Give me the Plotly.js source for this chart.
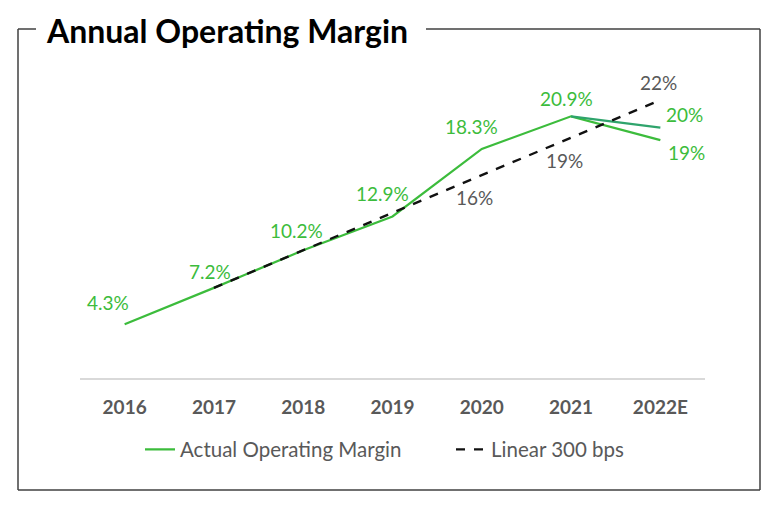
<!DOCTYPE html>
<html>
<head>
<meta charset="utf-8">
<script src="https://cdn.plot.ly/plotly-3.0.1.min.js"></script>
<style>html,body{margin:0;padding:0;background:#fff;}#chart{width:776px;height:506px;}</style>
</head>
<body>
<div id="chart"></div>
<script>
var years = ['2016','2017','2018','2019','2020','2021','2022E'];
var actual = [4.3, 7.2, 10.2, 12.9, 18.3, 20.9, 19];
var actualAlt = [null, null, null, null, null, 20.9, 20];
var linear = [null, 7.2, 10.2, 13.2, 16.2, 19.2, 22.2];
var actualLabels = ['4.3%', '7.2%', '10.2%', '12.9%', '18.3%', '20.9%', '19%'];
var altLabels = [null, null, null, null, null, null, '20%'];
var linearLabels = [null, null, null, null, '16%', '19%', '22%'];

var green = '#3cbc3c';
var teal = '#2fa46c';
var font = 'Lato, "Open Sans", sans-serif';

var traces = [
  {x: years, y: actual, type: 'scatter', mode: 'lines', name: 'Actual Operating Margin',
   line: {color: green, width: 2.2}, hoverinfo: 'skip'},
  {x: years, y: actualAlt, type: 'scatter', mode: 'lines', name: 'Estimate alt', showlegend: false,
   line: {color: teal, width: 2.2}, hoverinfo: 'skip'},
  {x: years, y: linear, type: 'scatter', mode: 'lines', name: 'Linear 300 bps',
   line: {color: '#111111', width: 2.4, dash: 'dash'}, hoverinfo: 'skip'}
];

// label offsets (style, px)
var actualShiftX = [-17, -4, -7, -10, -10, -5, 6];
var actualShiftY = [8, 3, 6, 10, 9, 4, 1];

var annotations = [];
actualLabels.forEach(function(t, i){
  if (!t) return;
  var last = i === years.length - 1;
  annotations.push({x: i, y: actual[i], xref: 'x', yref: 'y', text: t, showarrow: false,
    xanchor: last ? 'left' : 'center', yanchor: last ? 'top' : 'bottom',
    xshift: actualShiftX[i], yshift: actualShiftY[i],
    font: {family: font, size: 19, color: green}});
});
altLabels.forEach(function(t, i){
  if (!t) return;
  annotations.push({x: i, y: actualAlt[i], xref: 'x', yref: 'y', text: t, showarrow: false,
    xanchor: 'left', yanchor: 'bottom', xshift: 4, yshift: 0,
    font: {family: font, size: 19, color: green}});
});
linearLabels.forEach(function(t, i){
  if (!t) return;
  var last = i === years.length - 1;
  annotations.push({x: i, y: linear[i], xref: 'x', yref: 'y', text: t, showarrow: false,
    xanchor: 'center', yanchor: last ? 'bottom' : 'top',
    xshift: last ? -2 : -7, yshift: last ? 4 : -9,
    font: {family: font, size: 19, color: '#595959'}});
});
annotations.push({xref: 'paper', yref: 'paper', x: -0.058, y: 1.092, xanchor: 'left', yanchor: 'middle',
  text: '<b>Annual Operating Margin</b>', showarrow: false,
  font: {family: font, size: 32, color: '#000000'}});

var px = function(p){ return (p - 80) / 625; };
var py = function(p){ return (378 - p) / 318; };
var frameLine = {color: '#404040', width: 1.5};
var shapes = [
  {type: 'line', xref: 'paper', yref: 'paper', x0: px(18), x1: px(36), y0: py(29), y1: py(29), line: frameLine},
  {type: 'line', xref: 'paper', yref: 'paper', x0: px(426), x1: px(760), y0: py(29), y1: py(29), line: frameLine},
  {type: 'line', xref: 'paper', yref: 'paper', x0: px(18), x1: px(18), y0: py(29), y1: py(490), line: frameLine},
  {type: 'line', xref: 'paper', yref: 'paper', x0: px(760), x1: px(760), y0: py(29), y1: py(490), line: frameLine},
  {type: 'line', xref: 'paper', yref: 'paper', x0: px(18), x1: px(760), y0: py(490), y1: py(490), line: frameLine}
];

var layout = {
  width: 776, height: 506,
  margin: {l: 80, r: 71, t: 60, b: 128},
  paper_bgcolor: '#ffffff', plot_bgcolor: '#ffffff',
  showlegend: true,
  legend: {orientation: 'h', x: px(140), xanchor: 'left', y: -0.225, yanchor: 'middle',
    bgcolor: 'rgba(0,0,0,0)',
    font: {family: font, size: 20.5, color: '#595959'}, tracegroupgap: 0, entrywidth: 266},
  xaxis: {type: 'category', range: [-0.5, 6.5], showgrid: false, zeroline: false,
    showline: true, linecolor: '#d9d9d9', linewidth: 1.5,
    ticks: 'outside', ticklen: 12, tickcolor: 'rgba(0,0,0,0)',
    tickfont: {family: font, size: 19, color: '#595959', weight: 'bold'}, fixedrange: true},
  yaxis: {range: [0, 25.4], visible: false, showgrid: false, zeroline: false, fixedrange: true},
  annotations: annotations,
  shapes: shapes
};

Plotly.newPlot('chart', traces, layout, {displayModeBar: false, staticPlot: true});
</script>
</body>
</html>
